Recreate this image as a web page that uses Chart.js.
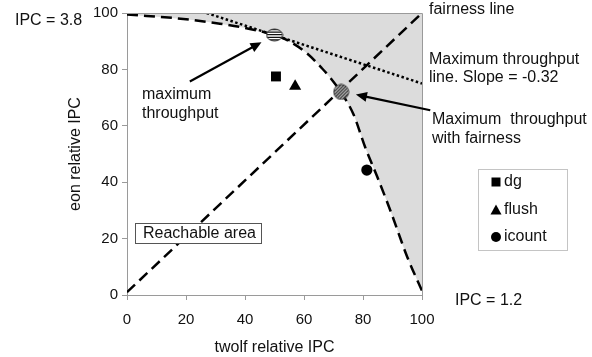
<!DOCTYPE html>
<html>
<head>
<meta charset="utf-8">
<script src="https://cdn.jsdelivr.net/npm/chart.js@4/dist/chart.umd.min.js"></script>
<style>
  html, body { margin: 0; padding: 0; background: #fff; }
  #wrap { width: 592px; height: 357px; position: relative; }
</style>
</head>
<body>
<div id="wrap"><canvas id="ipcChart"></canvas></div>
<script>
// Throughput frontier (reachable boundary), relative IPC of each thread
const frontierX = [0, 20, 31.5, 40, 50, 55, 61, 66, 69, 72.6, 76.8, 80.8, 84.8, 89.3, 95, 100];
const frontierY = [99.5, 97.8, 96.2, 94.7, 92.2, 90, 85.7, 80.5, 76.9, 71.8, 64, 52.2, 42, 29.9, 13.5, 1.5];

// Fairness line (equal relative IPC)
const fairnessX = [0, 100];
const fairnessY = [1, 100];

// Maximum throughput line
const maxLineX = [27, 100];
const maxLineY = [100, 75];

// Fetch policies
const policyNames = ['dg', 'flush', 'icount'];
const policyX = [50.5, 57, 81.3];
const policyY = [77.5, 74, 44.3];

// Special operating points
const maxThroughputPt = [50, 92.2];
const maxFairPt = [72.6, 72];

const axisTicks = [0, 20, 40, 60, 80, 100];

const FONT = '"Liberation Sans", Arial, sans-serif';
const toPts = (xs, ys) => xs.map((x, i) => ({ x: x, y: ys[i] }));

function stripedMark(w, h, diagonal) {
  const c = document.createElement('canvas');
  c.width = w; c.height = h;
  const g = c.getContext('2d');
  g.save();
  g.beginPath();
  g.ellipse(w / 2, h / 2, w / 2 - 1, h / 2 - 1, 0, 0, Math.PI * 2);
  g.fillStyle = '#fff';
  g.fill();
  g.clip();
  g.beginPath();
  g.strokeStyle = '#111';
  g.lineWidth = 1.3;
  if (diagonal) {
    for (let k = -h; k < w + h; k += 3.2) { g.moveTo(k, h); g.lineTo(k + h, 0); }
  } else {
    for (let y = 1.5; y < h; y += 2.6) { g.moveTo(0, y); g.lineTo(w, y); }
  }
  g.stroke();
  g.restore();
  g.beginPath();
  g.ellipse(w / 2, h / 2, w / 2 - 1, h / 2 - 1, 0, 0, Math.PI * 2);
  g.strokeStyle = '#333';
  g.lineWidth = 1;
  g.stroke();
  return c;
}

const policyStyles = ['rect', 'triangle', 'circle'];
const policyRadius = [7, 7, 5.6];

// Text, arrows, legend box and plot frame
const annotations = {
  id: 'annotations',
  afterDatasetsDraw(chart) {
    const { ctx, chartArea: ca, scales: { x, y } } = chart;
    ctx.save();

    // frame around the plot
    ctx.strokeStyle = '#9a9a9a';
    ctx.lineWidth = 1;
    ctx.beginPath();
    ctx.moveTo(ca.left, ca.top + 0.5);
    ctx.lineTo(ca.right + 0.5, ca.top + 0.5);
    ctx.lineTo(ca.right + 0.5, ca.bottom);
    ctx.stroke();

    // arrows
    const arrow = (x0, y0, x1, y1) => {
      const px0 = x.getPixelForValue(x0), py0 = y.getPixelForValue(y0);
      const px1 = x.getPixelForValue(x1), py1 = y.getPixelForValue(y1);
      const a = Math.atan2(py1 - py0, px1 - px0);
      const len = 11, half = 5;
      ctx.strokeStyle = '#000';
      ctx.lineWidth = 2.2;
      ctx.setLineDash([]);
      ctx.beginPath();
      ctx.moveTo(px0, py0);
      ctx.lineTo(px1 - Math.cos(a) * len * 0.8, py1 - Math.sin(a) * len * 0.8);
      ctx.stroke();
      ctx.fillStyle = '#000';
      ctx.beginPath();
      ctx.moveTo(px1, py1);
      ctx.lineTo(px1 - Math.cos(a) * len + Math.sin(a) * half, py1 - Math.sin(a) * len - Math.cos(a) * half);
      ctx.lineTo(px1 - Math.cos(a) * len - Math.sin(a) * half, py1 - Math.sin(a) * len + Math.cos(a) * half);
      ctx.closePath();
      ctx.fill();
    };
    arrow(21.3, 75.7, 45.6, 89.6);
    arrow(102.8, 65.5, 77.6, 71.1);

    // labels
    ctx.fillStyle = '#111';
    ctx.font = '16px ' + FONT;
    ctx.textBaseline = 'middle';
    ctx.textAlign = 'left';
    const rx = ca.right + 7;
    ctx.fillText('fairness line', rx, 10);
    ctx.fillText('Maximum throughput', rx, 60);
    ctx.fillText('line. Slope = -0.32', rx, 78);
    ctx.fillText('Maximum  throughput', rx + 3, 120);
    ctx.fillText('with fairness', rx + 3, 139);
    ctx.fillText('IPC = 1.2', ca.right + 33, 301);
    ctx.fillText('IPC = 3.8', 15, 21);
    ctx.fillText('maximum', ca.left + 15, 95);
    ctx.fillText('throughput', ca.left + 15, 114);

    // reachable area box
    ctx.fillStyle = '#fff';
    ctx.fillRect(135.5, 223.5, 126, 20);
    ctx.strokeStyle = '#555';
    ctx.lineWidth = 1;
    ctx.strokeRect(135.5, 223.5, 126, 20);
    ctx.fillStyle = '#111';
    ctx.fillText('Reachable area', 143, 234);

    // legend
    ctx.strokeStyle = '#c4c4c4';
    ctx.strokeRect(478.5, 169.5, 89, 81);
    const rows = [182, 210, 237];
    policyNames.forEach((name, i) => {
      const cy = rows[i], cx = 496;
      ctx.fillStyle = '#000';
      ctx.beginPath();
      if (policyStyles[i] === 'rect') {
        ctx.rect(cx - 4.5, cy - 4.5, 9, 9);
      } else if (policyStyles[i] === 'triangle') {
        ctx.moveTo(cx, cy - 5.5);
        ctx.lineTo(cx + 5.5, cy + 4.5);
        ctx.lineTo(cx - 5.5, cy + 4.5);
        ctx.closePath();
      } else {
        ctx.arc(cx, cy, 5, 0, Math.PI * 2);
      }
      ctx.fill();
      ctx.fillStyle = '#111';
      ctx.fillText(name, cx + 8, cy);
    });
    ctx.restore();
  }
};

const lineBase = { showLine: true, pointRadius: 0, borderColor: '#000', borderWidth: 2.5, fill: false };

new Chart(document.getElementById('ipcChart'), {
  type: 'scatter',
  data: {
    datasets: [
      {
        label: 'maximum throughput',
        data: [{ x: maxThroughputPt[0], y: maxThroughputPt[1] }],
        pointStyle: stripedMark(18, 14, false)
      },
      {
        label: 'maximum throughput with fairness',
        data: [{ x: maxFairPt[0], y: maxFairPt[1] }],
        pointStyle: stripedMark(17, 17, true)
      },
      ...policyNames.map((name, i) => ({
        label: name,
        data: [{ x: policyX[i], y: policyY[i] }],
        pointStyle: policyStyles[i],
        pointRadius: policyRadius[i],
        backgroundColor: '#000',
        borderColor: '#000',
        borderWidth: 0
      })),
      Object.assign({}, lineBase, {
        label: 'fairness line',
        data: toPts(fairnessX, fairnessY),
        borderDash: [11, 6]
      }),
      Object.assign({}, lineBase, {
        label: 'maximum throughput line',
        data: toPts(maxLineX, maxLineY),
        borderDash: [2.5, 2.5]
      }),
      Object.assign({}, lineBase, {
        label: 'frontier',
        data: toPts(frontierX, frontierY),
        borderDash: [11, 6],
        cubicInterpolationMode: 'monotone',
        fill: 'end',
        backgroundColor: '#dcdcdc'
      })
    ]
  },
  options: {
    responsive: true,
    maintainAspectRatio: false,
    animation: false,
    events: [],
    layout: { padding: { left: 60, right: 170, top: 11, bottom: 0 } },
    plugins: { legend: { display: false }, tooltip: { enabled: false } },
    scales: {
      x: {
        type: 'linear', min: 0, max: 100,
        afterBuildTicks: s => { s.ticks = axisTicks.map(v => ({ value: v })); },
        afterFit: s => { s.height = 62; },
        border: { color: '#9a9a9a', width: 1 },
        grid: { drawOnChartArea: false, drawTicks: true, tickLength: 5, color: '#9a9a9a' },
        ticks: { color: '#111', font: { family: FONT, size: 15 }, padding: 11, maxRotation: 0 },
        title: { display: true, text: 'twolf relative IPC', color: '#111', font: { family: FONT, size: 16 }, padding: { top: 0, bottom: 0 } }
      },
      y: {
        type: 'linear', min: 0, max: 100,
        afterBuildTicks: s => { s.ticks = axisTicks.map(v => ({ value: v })); },
        afterFit: s => { s.width = 67; },
        border: { color: '#9a9a9a', width: 1 },
        grid: { drawOnChartArea: false, drawTicks: true, tickLength: 5, color: '#9a9a9a' },
        ticks: { color: '#111', font: { family: FONT, size: 15 }, padding: 4 },
        title: { display: true, text: 'eon relative IPC', color: '#111', font: { family: FONT, size: 16 }, padding: { top: 6, bottom: 0 } }
      }
    }
  },
  plugins: [annotations]
});
</script>
</body>
</html>
